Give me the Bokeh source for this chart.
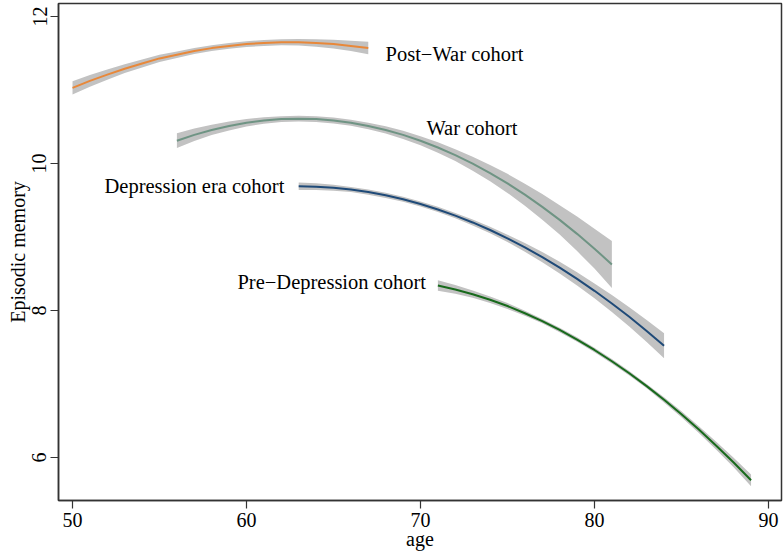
from bokeh.plotting import figure
from bokeh.models import Range1d, FixedTicker, ColumnDataSource
from bokeh.core.properties import value
from bokeh.embed import file_html
from bokeh.resources import INLINE

# ---- data ----
postwar_age = [50, 51, 52, 53, 54, 55, 56, 57, 58, 59, 60, 61, 62, 63, 64, 65, 66, 67]
postwar_mem = [11.03, 11.125, 11.21, 11.29, 11.36, 11.43, 11.48, 11.53, 11.57, 11.60,
               11.625, 11.64, 11.65, 11.65, 11.64, 11.625, 11.60, 11.57]
postwar_ci = [0.09, 0.08, 0.07, 0.06, 0.055, 0.05, 0.045, 0.04, 0.04, 0.04,
              0.04, 0.04, 0.04, 0.045, 0.05, 0.06, 0.07, 0.085]

war_age = list(range(56, 82))
war_mem = [10.31, 10.39, 10.457, 10.51, 10.555, 10.586, 10.604, 10.61, 10.604, 10.586,
           10.555, 10.51, 10.457, 10.39, 10.31, 10.218, 10.114, 9.998, 9.869, 9.729,
           9.576, 9.41, 9.233, 9.043, 8.841, 8.627]
war_ci = [0.10, 0.085, 0.07, 0.06, 0.05, 0.045, 0.04, 0.04, 0.04, 0.04,
          0.04, 0.045, 0.05, 0.055, 0.06, 0.07, 0.08, 0.095, 0.11, 0.13,
          0.15, 0.175, 0.20, 0.235, 0.27, 0.32]

dep_age = list(range(63, 85))
dep_mem = [9.69, 9.685, 9.67, 9.646, 9.611, 9.567, 9.513, 9.449, 9.375, 9.291,
           9.198, 9.095, 8.982, 8.859, 8.726, 8.583, 8.43, 8.268, 8.096, 7.914,
           7.722, 7.52]
dep_ci = [0.05, 0.045, 0.04, 0.035, 0.035, 0.035, 0.035, 0.035, 0.035, 0.035,
          0.04, 0.045, 0.05, 0.06, 0.07, 0.08, 0.09, 0.10, 0.115, 0.13,
          0.15, 0.17]

pre_age = list(range(71, 90))
pre_mem = [8.34, 8.287, 8.222, 8.147, 8.061, 7.963, 7.855, 7.735, 7.605, 7.463,
           7.31, 7.146, 6.971, 6.785, 6.588, 6.38, 6.161, 5.931, 5.69]
pre_ci = [0.07, 0.06, 0.05, 0.045, 0.04, 0.035, 0.03, 0.03, 0.03, 0.03,
          0.03, 0.03, 0.03, 0.035, 0.04, 0.045, 0.055, 0.065, 0.08]

label_text = ["Post\u2212War cohort", "War cohort", "Depression era cohort", "Pre\u2212Depression cohort"]
label_x = [67.99, 70.34, 51.84, 59.48]
label_y = [11.49, 10.48, 9.70, 8.39]

x_ticks = [50, 60, 70, 80, 90]
y_ticks = [6, 8, 10, 12]

# ---- styling ----
FONT = "Liberation Serif"
band_color = "#c2c2c2"
series = [
    (postwar_age, postwar_mem, postwar_ci, "#e8883a"),
    (war_age, war_mem, war_ci, "#6f9484"),
    (dep_age, dep_mem, dep_ci, "#1f4a78"),
    (pre_age, pre_mem, pre_ci, "#186a1c"),
]

p = figure(width=784, height=558, output_backend="svg", toolbar_location=None,
           x_range=Range1d(49.195, 90.75), y_range=Range1d(5.415, 12.177),
           min_border_left=58, min_border_right=3, min_border_top=3, min_border_bottom=58)

for ages, mem, ci, col in series:
    lo = [m - c for m, c in zip(mem, ci)]
    hi = [m + c for m, c in zip(mem, ci)]
    p.varea(x=ages, y1=lo, y2=hi, fill_color=band_color, fill_alpha=1.0)
for ages, mem, ci, col in series:
    p.line(x=ages, y=mem, line_color=col, line_width=2)

src = ColumnDataSource(dict(x=label_x, y=label_y, t=label_text))
p.text(x="x", y="y", text="t", source=src, text_font=value(FONT),
       text_font_size="20.5px", text_baseline="alphabetic", text_align="left",
       text_color="black")

p.xgrid.visible = False
p.ygrid.visible = False
p.background_fill_color = "white"
p.border_fill_color = "white"
p.outline_line_color = "#333333"
p.outline_line_width = 1.5
p.outline_line_alpha = 1.0

for ax in (p.xaxis[0], p.yaxis[0]):
    ax.axis_line_color = "#333333"
    ax.axis_line_width = 1.5
    ax.major_tick_line_color = "#333333"
    ax.major_tick_line_width = 1.2
    ax.major_tick_out = 8
    ax.major_tick_in = 0
    ax.minor_tick_line_color = None
    ax.major_label_text_font = FONT
    ax.major_label_text_font_size = "20px"
    ax.major_label_text_color = "black"
    ax.axis_label_text_font = FONT
    ax.axis_label_text_font_size = "20px"
    ax.axis_label_text_font_style = "normal"
    ax.axis_label_text_color = "black"

p.xaxis[0].major_label_standoff = 4
p.xaxis[0].axis_label_standoff = -2
p.yaxis[0].major_label_standoff = 4
p.yaxis[0].axis_label_standoff = 1

p.xaxis[0].ticker = FixedTicker(ticks=x_ticks)
p.yaxis[0].ticker = FixedTicker(ticks=y_ticks)
p.yaxis[0].major_label_orientation = "vertical"
p.xaxis[0].axis_label = "age"
p.yaxis[0].axis_label = "Episodic memory"

open("out.html", "w").write(file_html(p, INLINE))
